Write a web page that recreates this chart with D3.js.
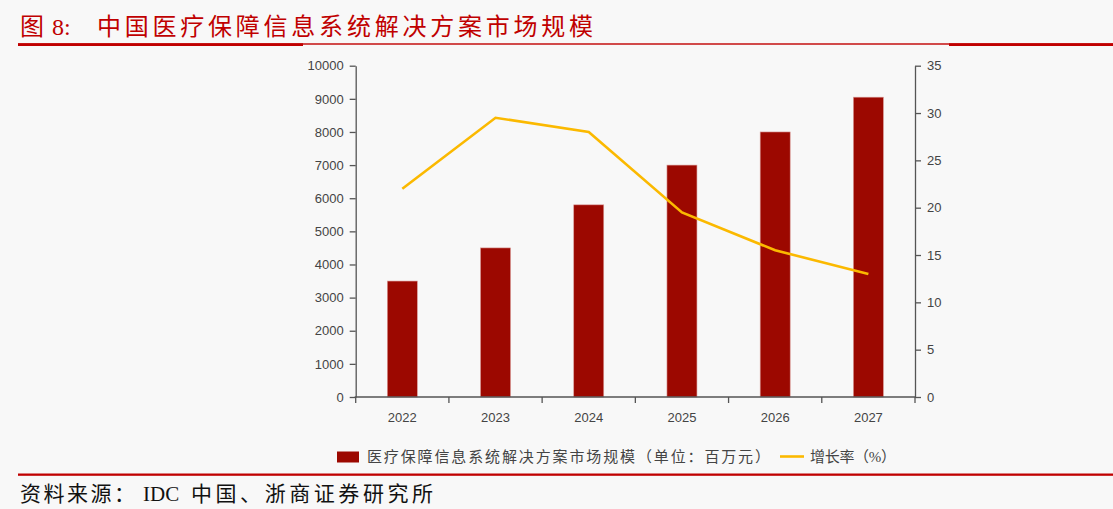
<!DOCTYPE html>
<html lang="zh">
	<head>
		<meta charset="utf-8">
		<title>医疗保障信息系统解决方案市场规模</title>
		<script type="text/javascript" src="https://cdn.jsdelivr.net/npm/d3@7"></script>
		<style type="text/css">
			body{margin:0;background:#f8f8f8;}
			svg{display:block;}
		</style>
	</head>
	<body>
		<div id="chart"></div>
		<script type="text/javascript">

var years = ["2022","2023","2024","2025","2026","2027"]
var marketSize = [3500,4500,5800,7000,8000,9050]   // 百万元
var growthRate = [22,29.5,28,19.5,15.5,13]          // %
var leftTicks = [0,1000,2000,3000,4000,5000,6000,7000,8000,9000,10000]
var rightTicks = [0,5,10,15,20,25,30,35]

var titleText = "中国医疗保障信息系统解决方案市场规模"
var barLabel = "医疗保障信息系统解决方案市场规模（单位：百万元）"
var lineLabel = "增长率（%）"

var W = 1113, H = 509
// plot area (note: "top" is reserved on window, so use other names)
var pL = 355.7, pR = 915, pT = 65.7, pB = 397
var red = "#c00000", barColor = "#9c0800", lineColor = "#fbb900", axisColor = "#555"
var cjk = "'Liberation Serif','Noto Sans CJK SC',serif"
var sans = "'Liberation Sans','DejaVu Sans',Arial,sans-serif"

var svg = d3.select("#chart").append("svg")
	.attr("width",W).attr("height",H)

svg.append("rect").attr("width",W).attr("height",H).attr("fill","#f8f8f8")

// title + header lines
var title = svg.append("text")
	.attr("y",35)
	.attr("font-family",cjk).attr("font-size",24)
	.attr("fill",red)
title.append("tspan").attr("x",20).text("图")
title.append("tspan").attr("x",52).text("8:")
title.append("tspan").attr("x",97).attr("textLength",496).attr("lengthAdjust","spacing").text(titleText)

svg.append("rect").attr("x",18).attr("y",43.3).attr("width",W-18).attr("height",1.4).attr("fill",red)
svg.append("rect").attr("x",18).attr("y",43.3).attr("width",285).attr("height",2.7).attr("fill",red)
svg.append("rect").attr("x",949).attr("y",43.3).attr("width",W-949).attr("height",2.7).attr("fill",red)

// scales
var x = d3.scaleBand().domain(years).range([pL,pR]).paddingInner(0).paddingOuter(0)
var yL = d3.scaleLinear().domain([0,10000]).range([pB,pT])
var yR = d3.scaleLinear().domain([0,35]).range([pB,pT])
var barW = 30

// bars
svg.selectAll(".bar")
	.data(marketSize)
	.enter()
	.append("rect")
	.attr("class","bar")
	.attr("x",function(d,i){ return x(years[i])+x.bandwidth()/2-barW/2 })
	.attr("y",function(d){ return yL(d) })
	.attr("width",barW)
	.attr("height",function(d){ return yL(0)-yL(d) })
	.attr("fill",barColor)
	.attr("stroke","#d99a96").attr("stroke-width",0.6)

// growth line
var line = d3.line()
	.x(function(d,i){ return x(years[i])+x.bandwidth()/2 })
	.y(function(d){ return yR(d) })

svg.append("path")
	.datum(growthRate)
	.attr("d",line)
	.attr("fill","none")
	.attr("stroke",lineColor)
	.attr("stroke-width",2.6)

// axes
function styleAxis(g){
	g.select(".domain").attr("stroke",axisColor).attr("stroke-width",1.3)
	g.selectAll(".tick line").attr("stroke",axisColor).attr("stroke-width",1.3)
	g.selectAll(".tick text").attr("fill","#444").attr("font-family",sans).attr("font-size",13)
}

var leftAxis = d3.axisLeft(yL).tickValues(leftTicks).tickFormat(d3.format("d"))
	.tickSize(6).tickPadding(6).tickSizeOuter(0)
svg.append("g")
	.attr("transform","translate("+pL+",0)")
	.call(leftAxis)
	.call(styleAxis)

var rightAxis = d3.axisRight(yR).tickValues(rightTicks).tickFormat(d3.format("d"))
	.tickSize(6).tickPadding(6).tickSizeOuter(0)
svg.append("g")
	.attr("transform","translate("+pR+",0)")
	.call(rightAxis)
	.call(styleAxis)

// x axis: ticks at band boundaries
var bx = svg.append("g").attr("transform","translate(0,"+pB+")")
bx.append("line").attr("x1",pL-1).attr("x2",pR).attr("stroke",axisColor).attr("stroke-width",1.3)
bx.selectAll(".sep")
	.data(years)
	.enter()
	.append("line")
	.attr("x1",function(d){ return x(d)+x.bandwidth() })
	.attr("x2",function(d){ return x(d)+x.bandwidth() })
	.attr("y1",0).attr("y2",6)
	.attr("stroke",axisColor).attr("stroke-width",1.3)
bx.append("line").attr("x1",pL).attr("x2",pL).attr("y1",0).attr("y2",6).attr("stroke",axisColor).attr("stroke-width",1.3)
bx.selectAll(".xl")
	.data(years)
	.enter()
	.append("text")
	.attr("x",function(d){ return x(d)+x.bandwidth()/2 })
	.attr("y",25)
	.attr("text-anchor","middle")
	.attr("fill","#444").attr("font-family",sans).attr("font-size",13)
	.text(function(d){ return d })

// legend
svg.append("rect").attr("x",337).attr("y",451.5).attr("width",22).attr("height",11).attr("fill",barColor)
svg.append("text")
	.attr("x",367).attr("y",462)
	.attr("font-family",cjk).attr("font-size",15).attr("fill","#444")
	.attr("textLength",403).attr("lengthAdjust","spacing")
	.text(barLabel)
svg.append("line").attr("x1",780).attr("x2",804).attr("y1",456.5).attr("y2",456.5)
	.attr("stroke",lineColor).attr("stroke-width",2.6)
svg.append("text")
	.attr("x",810).attr("y",462)
	.attr("font-family",cjk).attr("font-size",15).attr("fill","#444")
	.attr("textLength",86).attr("lengthAdjust","spacing")
	.text(lineLabel)

// footer
svg.append("rect").attr("x",18).attr("y",473.5).attr("width",W-18).attr("height",2.3).attr("fill",red)
var src = svg.append("text")
	.attr("y",501)
	.attr("font-family",cjk).attr("font-size",21).attr("fill","#111")
src.append("tspan").attr("x",20).attr("textLength",115).attr("lengthAdjust","spacing").text("资料来源：")
src.append("tspan").attr("x",143).text("IDC")
src.append("tspan").attr("x",191).attr("textLength",242).attr("lengthAdjust","spacing").text("中国、浙商证券研究所")

		</script>
	</body>
</html>
